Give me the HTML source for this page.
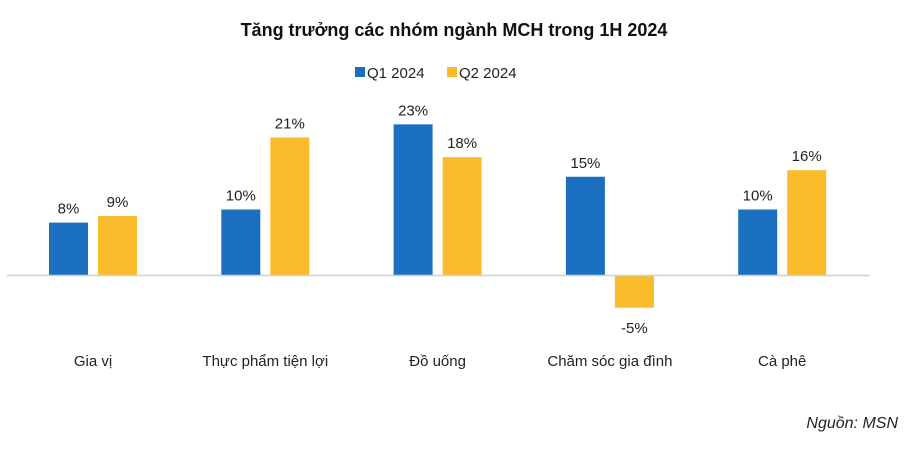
<!DOCTYPE html>
<html><head><meta charset="utf-8"><style>
body{margin:0;background:#fff;width:908px;height:444px;overflow:hidden;font-family:"Liberation Sans",sans-serif}
</style></head><body>
<svg width="908" height="444">
<text x="454" y="36" text-anchor="middle" font-size="18" font-weight="bold" fill="#111">Tăng trưởng các nhóm ngành MCH trong 1H 2024</text>
<g>
<rect x="355" y="67" width="10" height="10" fill="#1a6fbf"/>
<text x="367" y="78" font-size="15" fill="#222">Q1 2024</text>
<rect x="447" y="67" width="10" height="10" fill="#fbbc2c"/>
<text x="459" y="78" font-size="15" fill="#222">Q2 2024</text>
</g>
<g id="plot"></g>
<line x1="7" y1="275.5" x2="870" y2="275.5" stroke="#d0d0d0" stroke-width="1.5"/>
<text x="898" y="428" text-anchor="end" font-size="16" font-style="italic" fill="#222">Nguồn: MSN</text>
</svg>
<script>
const categories=["Gia vị","Thực phẩm tiện lợi","Đồ uống","Chăm sóc gia đình","Cà phê"];
const q1Values=[8,10,23,15,10];
const q2Values=[9,21,18,-5,16];
const labelsQ1=["8%","10%","23%","15%","10%"];
const labelsQ2=["9%","21%","18%","-5%","16%"];
const ns="http://www.w3.org/2000/svg";
const g=document.getElementById('plot');
const base=275,scale=6.55;
const y=v=>base-v*scale;
const gx=i=>93+i*172.3;
function mk(t,a){const e=document.createElementNS(ns,t);for(const k in a)e.setAttribute(k,a[k]);g.appendChild(e);return e;}
function bar(i,v,lab,off,col,s){
 const x=gx(i)+off;
 const r=mk('rect',{x:x,y:Math.min(y(v),base),width:39,height:Math.abs(v)*scale,fill:col});
 
 
 const t=mk('text',{x:x+19.5,y:v>=0?y(v)-9:y(v)+25,'text-anchor':'middle','font-size':15,fill:'#222'});
 t.textContent=lab;
 
 
}
categories.forEach((c,i)=>{
 bar(i,q1Values[i],labelsQ1[i],-44,'#1a6fbf','q1');
 bar(i,q2Values[i],labelsQ2[i],5,'#fbbc2c','q2');
 const t=mk('text',{x:gx(i),y:366,'text-anchor':'middle','font-size':15,fill:'#222'});
 t.textContent=c;
 
 
});
</script>
</body></html>
